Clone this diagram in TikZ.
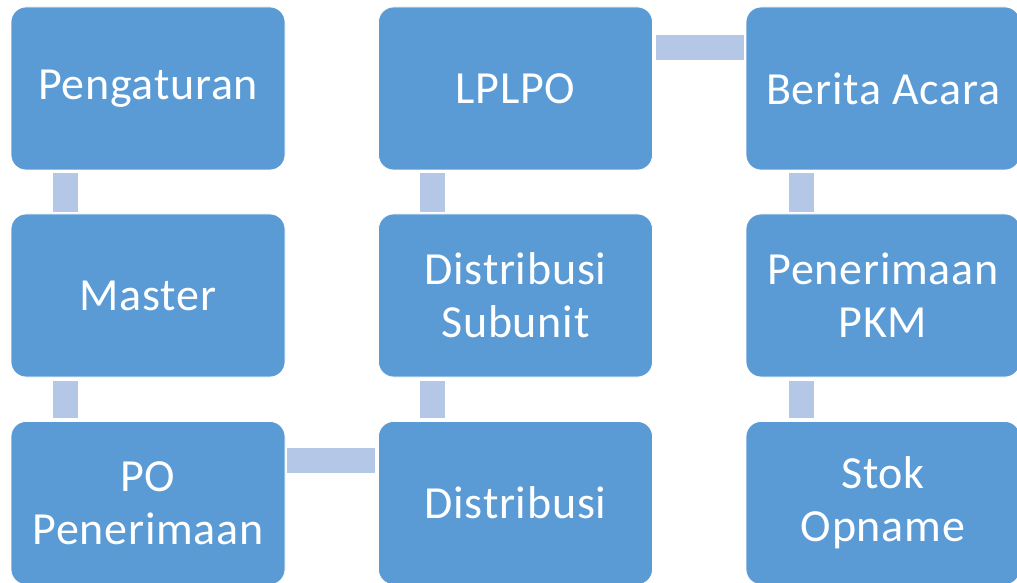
\documentclass[tikz,border=0pt]{standalone}
\usepackage{fontspec}
\setmainfont{Carlito}[LetterSpace=1.6]
\definecolor{boxblue}{HTML}{5B9BD5}
\definecolor{barblue}{HTML}{B4C7E7}
\begin{document}
\begin{tikzpicture}[x=1pt,y=1pt,
  stepbox/.style={fill=boxblue, draw=white, line width=0.8pt, rounded corners=15pt,
    minimum width=274pt, minimum height=163pt, inner sep=0pt, text=white,
    align=center, font=\fontsize{46}{53}\selectfont},
  bar/.style={draw=barblue, line width=25pt}]
\useasboundingbox (0,0) rectangle (1017,582);
\node[stepbox] (a) at (148,493.5) {Pengaturan};
\node[stepbox] (b) at (148,286.5) {Master};
\node[stepbox] (c) at (148,79) {PO\\Penerimaan};
\node[stepbox] (d) at (515.5,79) {Distribusi};
\node[stepbox] (e) at (515.5,286.5) {Distribusi\\Subunit};
\node[stepbox] (f) at (515.5,493.5) {LPLPO};
\node[stepbox] (g) at (883,493.5) {Berita Acara};
\node[stepbox] (h) at (883,286.5) {Penerimaan\\PKM};
\node[stepbox] (i) at (883,79) {Stok\\Opname};
% connectors
\draw[bar] ([xshift=54.5pt,yshift=-3pt]a.south west) -- ([xshift=54.5pt,yshift=2pt]b.north west);
\draw[bar] ([xshift=54.5pt,yshift=-4pt]b.south west) -- ([xshift=54.5pt,yshift=3pt]c.north west);
\draw[bar] ([xshift=2pt,yshift=-39.5pt]c.north east) -- ([xshift=-3pt,yshift=-39.5pt]d.north west);
\draw[bar] ([xshift=54.5pt,yshift=3pt]d.north west) -- ([xshift=54.5pt,yshift=-4pt]e.south west);
\draw[bar] ([xshift=54.5pt,yshift=2pt]e.north west) -- ([xshift=54.5pt,yshift=-3pt]f.south west);
\draw[bar] ([xshift=3pt,yshift=-40.5pt]f.north east) -- ([xshift=-2pt,yshift=-40.5pt]g.north west);
\draw[bar] ([xshift=55.5pt,yshift=-3pt]g.south west) -- ([xshift=55.5pt,yshift=2pt]h.north west);
\draw[bar] ([xshift=55.5pt,yshift=-4pt]h.south west) -- ([xshift=55.5pt,yshift=3pt]i.north west);
\end{tikzpicture}
\end{document}
